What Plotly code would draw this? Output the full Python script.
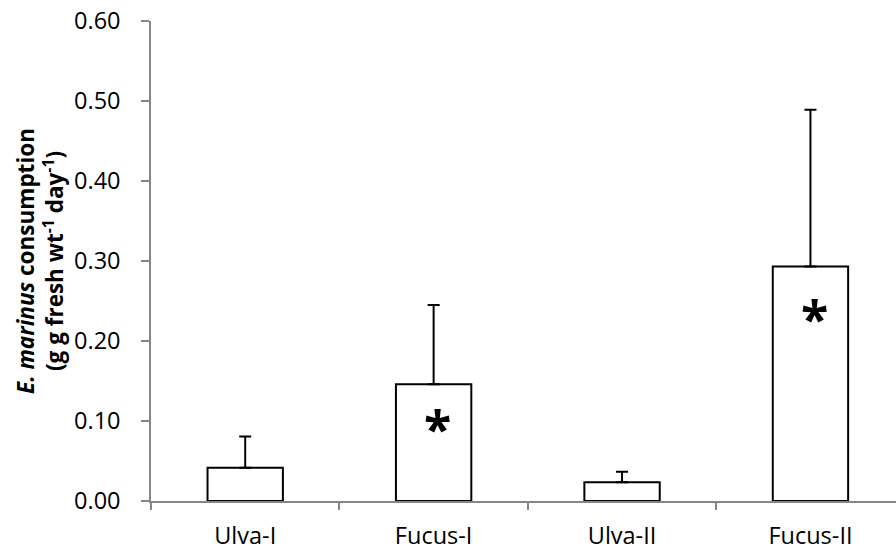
import plotly.graph_objects as go

categories = ["Ulva-I", "Fucus-I", "Ulva-II", "Fucus-II"]
consumption = [0.0415, 0.146, 0.0235, 0.293]
error_plus = [0.039, 0.099, 0.013, 0.196]
y_tick_values = [0.0, 0.1, 0.2, 0.3, 0.4, 0.5, 0.6]
sig_categories = ["Fucus-I", "Fucus-II"]
sig_label_y = [0.0997, 0.237]

FONT = "Open Sans"
AXIS_GREY = "#868686"

fig = go.Figure()
fig.add_trace(go.Bar(
    x=categories,
    y=consumption,
    width=0.40,
    marker=dict(color="white", line=dict(color="black", width=2)),
    error_y=dict(type="data", symmetric=False, array=error_plus,
                 arrayminus=[0] * len(error_plus),
                 color="black", thickness=2, width=6),
    showlegend=False,
))

for cat, yv in zip(sig_categories, sig_label_y):
    fig.add_annotation(x=cat, y=yv, xref="x", yref="y", text="<b>*</b>",
                       showarrow=False, xshift=4, yshift=-7,
                       font=dict(family=FONT, size=50, color="black"))

fig.update_layout(
    width=896, height=553,
    margin=dict(l=151, r=0, t=21, b=52),
    paper_bgcolor="white", plot_bgcolor="white",
    font=dict(family=FONT, color="black"),
    bargap=0.6,
)
fig.update_xaxes(
    type="category",
    range=[-0.5, 3.454],
    showline=True, linecolor=AXIS_GREY, linewidth=1.5,
    ticks="outside", tickson="boundaries", ticklen=7, tickcolor=AXIS_GREY, tickwidth=1.5,
    tickfont=dict(family=FONT, size=23.5, color="black"),
    ticklabelstandoff=13,
    showgrid=False, zeroline=False,
)
fig.update_yaxes(
    range=[0, 0.6],
    tickvals=y_tick_values,
    tickformat=".2f",
    showline=True, linecolor=AXIS_GREY, linewidth=1.5,
    ticks="outside", ticklen=8, tickcolor=AXIS_GREY, tickwidth=1.5,
    tickfont=dict(family=FONT, size=23.5, color="black"),
    ticklabelstandoff=16,
    showgrid=False, zeroline=False,
    title=dict(
        text="<b><i>E. marinus</i> consumption<br>(g g fresh wt<sup>-1</sup> day<sup>-1</sup>)</b>",
        font=dict(family=FONT, size=22.5, color="black"),
        standoff=4,
    ),
)

fig.write_html(
    "out.html",
    config={"displayModeBar": False},
    post_script="document.body.style.margin='0';document.body.style.padding='0';document.body.style.overflow='hidden';",
)
